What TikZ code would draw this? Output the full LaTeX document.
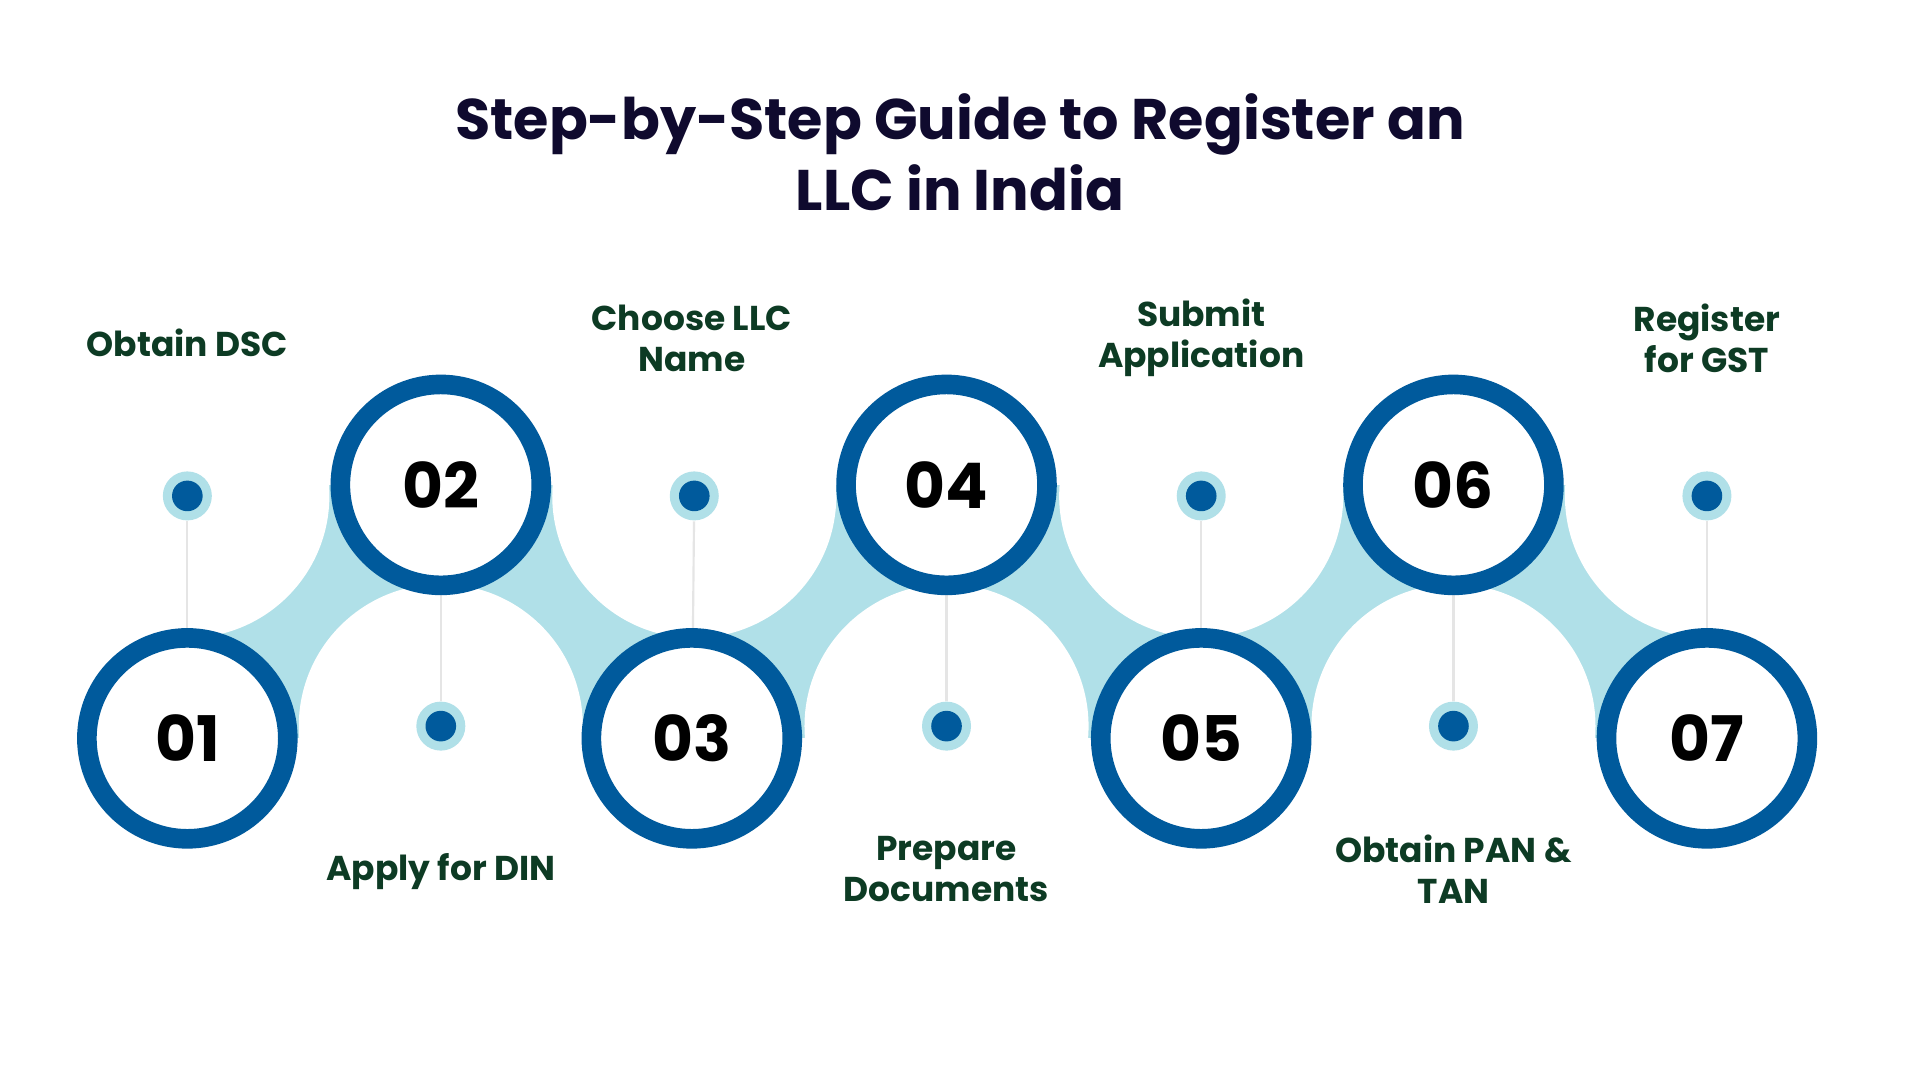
\documentclass[tikz,border=0pt]{standalone}
\usepackage{fontspec}
\setmainfont{Poppins}
\definecolor{ringblue}{HTML}{005A9C}
\definecolor{lightb}{HTML}{B0E0E8}
\definecolor{lblgreen}{HTML}{0D3B24}
\definecolor{titlec}{HTML}{0F0A2E}
\begin{document}
\begin{tikzpicture}[x=0.01cm,y=-0.01cm,
  ring/.style={circle,draw=ringblue,line width=0.16cm,fill=white,minimum size=1.64cm,inner sep=0pt,font=\fontsize{14.6}{17}\selectfont\bfseries},
  lbl/.style={align=center,text=lblgreen,font=\fontsize{8.0}{9.5}\selectfont\bfseries},
  halo/.style={circle,fill=lightb,minimum size=0.4cm,inner sep=0pt},
  dot/.style={circle,fill=ringblue,minimum size=0.25cm,inner sep=0pt},
  stem/.style={draw=black!10,line width=0.5pt}]
\useasboundingbox (0,0) rectangle (1568,882);
\fill[white] (0,0) rectangle (1568,882);
\node[text=titlec,align=center,font=\fontsize{13.3}{16.5}\selectfont\bfseries] (title) at (784,124) {Step-by-Step Guide to Register an\\LLC in India};
% band
\fill[lightb] (153,396) rectangle (1394,603);
\foreach \x/\y in {153/405,360/593,567/405,773/593,981/405,1187/593,1394/405}
  \fill[white] (\x,\y) circle (116);
\fill[white] (0,396) rectangle (153,700);
\fill[white] (1394,300) rectangle (1568,700);
% dots
\foreach \i/\x/\y in {1/153/405,2/360/593,3/567/405,4/773/593,5/981/405,6/1187/593,7/1394/405}{
  \node[halo] (h\i) at (\x,\y) {};
  \node[dot] (d\i) at (\x,\y) {};
}
\foreach \i/\x/\y in {1/153/603,2/360/396,3/565/603,4/773/396,5/981/603,6/1187/396,7/1394/603}
  \coordinate (c\i) at (\x,\y);
\foreach \i in {1,...,7} \draw[stem] (h\i) -- (c\i);
\node[ring] (r1) at (c1) {01};
\node[ring] (r2) at (c2) {02};
\node[ring] (r3) at (c3) {03};
\node[ring] (r4) at (c4) {04};
\node[ring] (r5) at (c5) {05};
\node[ring] (r6) at (c6) {06};
\node[ring] (r7) at (c7) {07};
\node[lbl] (l1) at (153,280) {Obtain DSC};
\node[lbl] (l2) at (360,712) {Apply for DIN};
\node[lbl] (l3) at (565,276) {Choose LLC\\Name};
\node[lbl] (l4) at (773,710) {Prepare\\Documents};
\node[lbl] (l5) at (981,276) {Submit\\Application};
\node[lbl] (l6) at (1187,710) {Obtain PAN \&\\TAN};
\node[lbl] (l7) at (1394,276) {Register\\for GST};
\end{tikzpicture}
\end{document}
